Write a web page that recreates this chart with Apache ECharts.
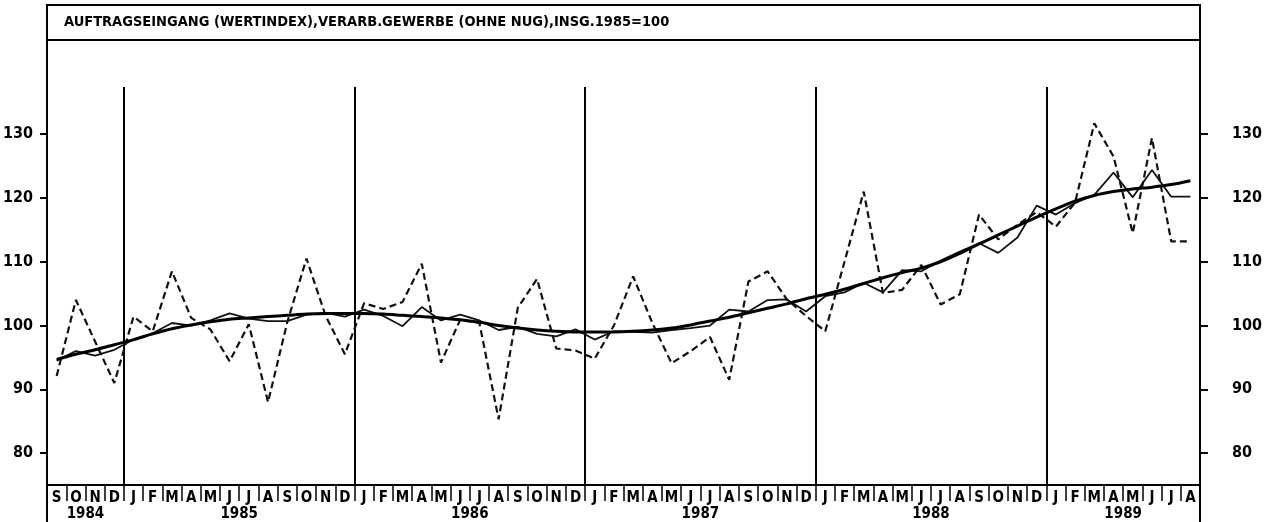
<!DOCTYPE html>
<html>
<head>
<meta charset="utf-8">
<title>Auftragseingang</title>
<script src="https://cdn.jsdelivr.net/npm/echarts@6/dist/echarts.min.js"></script>
<style>
  html, body { margin: 0; padding: 0; background: #fff; }
  #chart { width: 1268px; height: 522px; }
</style>
</head>
<body>
<div id="chart"></div>
<script type="text/javascript">
    var titleText = 'AUFTRAGSEINGANG (WERTINDEX),VERARB.GEWERBE (OHNE NUG),INSG.1985=100';

    // month letters Sep 1984 .. Aug 1989
    var monthLetters = [
        'S','O','N','D',
        'J','F','M','A','M','J','J','A','S','O','N','D',
        'J','F','M','A','M','J','J','A','S','O','N','D',
        'J','F','M','A','M','J','J','A','S','O','N','D',
        'J','F','M','A','M','J','J','A','S','O','N','D',
        'J','F','M','A','M','J','J','A'
    ];
    var yearNames = ['1984', '1985', '1986', '1987', '1988', '1989'];
    var monthsPerYear = [4, 12, 12, 12, 12, 8];
    var yTicks = [80, 90, 100, 110, 120, 130];

    // Originalwerte (gestrichelt)
    var rawValues = [
        92.1, 104.0, 97.5, 91.0,
        101.4, 99.1, 108.5, 101.2, 99.4, 94.4, 100.2, 88.0, 100.5, 110.5, 101.5, 95.5,
        103.5, 102.6, 103.7, 109.7, 94.2, 100.9, 100.4, 85.3, 102.8, 107.3, 96.4, 96.1,
        94.8, 100.0, 107.7, 100.4, 94.1, 96.0, 98.2, 91.5, 106.9, 108.5, 104.1, 101.5,
        99.1, 110.0, 121.0, 105.1, 105.6, 109.5, 103.3, 104.9, 117.4, 113.5, 115.8, 117.8,
        115.5, 119.3, 131.7, 126.5, 114.5, 129.4, 113.2, 113.2
    ];
    // glatte Komponente (duenn)
    var smoothValues = [
        94.5, 96.0, 95.3, 96.2,
        97.8, 98.8, 100.4, 100.0, 100.8, 101.9, 101.1, 100.7, 100.7, 101.7, 102.0, 101.4,
        102.5, 101.5, 99.9, 102.9, 100.8, 101.7, 100.8, 99.3, 99.8, 98.7, 98.3, 99.4,
        97.8, 99.1, 99.0, 98.9, 99.3, 99.6, 100.0, 102.5, 102.2, 104.0, 104.1, 102.2,
        104.6, 105.2, 106.7, 105.2, 108.7, 108.5, 110.2, 111.6, 112.9, 111.4, 113.8, 118.8,
        117.4, 119.2, 120.5, 124.0, 120.1, 124.4, 120.2, 120.2
    ];
    // Trend (dick)
    var trendValues = [
        94.7, 95.5, 96.2, 97.0,
        97.8, 98.7, 99.5, 100.1, 100.6, 101.0, 101.2, 101.4, 101.6, 101.8, 101.9, 101.9,
        101.9, 101.8, 101.6, 101.4, 101.2, 100.9, 100.5, 100.0, 99.6, 99.3, 99.1, 99.0,
        99.0, 99.0, 99.1, 99.3, 99.6, 100.1, 100.7, 101.3, 102.0, 102.7, 103.4, 104.2,
        104.9, 105.7, 106.6, 107.5, 108.3, 109.0, 110.0, 111.3, 112.8, 114.2, 115.6, 117.0,
        118.3, 119.5, 120.4, 121.0, 121.4, 121.7, 122.1, 122.7
    ];

    var font = '"Liberation Sans Narrow", "DejaVu Sans Condensed", sans-serif';

    // where each year starts and its centre on the month scale
    var yearStarts = [];
    var yearCenters = [];
    var pos = 0;
    for (var k = 0; k < monthsPerYear.length; k++) {
        yearStarts.push(pos);
        yearCenters.push(pos + monthsPerYear[k] / 2);
        pos += monthsPerYear[k];
    }

    var chart = echarts.init(document.getElementById('chart'));

    var option = {
        animation: false,
        backgroundColor: '#fff',
        title: {
            text: titleText,
            left: 64,
            top: 15,
            padding: 0,
            textStyle: {fontFamily: font, fontWeight: 'bold', fontSize: 14.5, color: '#000'}
        },
        grid: {left: 47, right: 68, top: 87, bottom: 36},
        xAxis: [
            {
                type: 'category',
                data: monthLetters,
                boundaryGap: true,
                axisLine: {show: true, lineStyle: {color: '#000', width: 2}},
                axisTick: {show: true, interval: 0, length: 16, lineStyle: {color: '#000', width: 1.5}},
                axisLabel: {interval: 0, margin: 6, fontFamily: font, fontWeight: 'bold', fontSize: 15, color: '#000'},
                splitLine: {
                    show: true,
                    interval: function (index) { return index > 0 && yearStarts.indexOf(index) >= 0; },
                    lineStyle: {color: '#000', width: 2}
                }
            },
            {
                type: 'value',
                min: 0,
                max: monthLetters.length,
                position: 'bottom',
                axisLine: {show: false},
                axisTick: {show: false},
                splitLine: {show: false},
                axisLabel: {
                    customValues: yearCenters,
                    margin: 22,
                    fontFamily: font, fontWeight: 'bold', fontSize: 15, color: '#000',
                    formatter: function (v) {
                        var idx = yearCenters.indexOf(v);
                        return idx >= 0 ? yearNames[idx] : '';
                    }
                }
            }
        ],
        yAxis: [
            {
                type: 'value',
                position: 'left',
                min: 75,
                max: 137.4,
                axisLine: {show: true, lineStyle: {color: '#000', width: 2}},
                axisTick: {show: true, customValues: yTicks, length: 7, lineStyle: {color: '#000', width: 2}},
                axisLabel: {customValues: yTicks, margin: 14, fontFamily: font, fontWeight: 'bold', fontSize: 16, color: '#000'},
                splitLine: {show: false}
            },
            {
                type: 'value',
                position: 'right',
                min: 75,
                max: 137.4,
                axisLine: {show: true, lineStyle: {color: '#000', width: 2}},
                axisTick: {show: true, customValues: yTicks, length: 8, lineStyle: {color: '#000', width: 2}},
                axisLabel: {customValues: yTicks, margin: 32, fontFamily: font, fontWeight: 'bold', fontSize: 16, color: '#000'},
                splitLine: {show: false}
            }
        ],
        graphic: [
            {type: 'rect', shape: {x: 47, y: 5, width: 1153, height: 35}, style: {fill: null, stroke: '#000', lineWidth: 2}},
            {type: 'line', shape: {x1: 47, y1: 40, x2: 47, y2: 522}, style: {stroke: '#000', lineWidth: 2}},
            {type: 'line', shape: {x1: 1200, y1: 40, x2: 1200, y2: 522}, style: {stroke: '#000', lineWidth: 2}}
        ],
        series: [
            {
                name: 'Originalwerte',
                type: 'line',
                data: rawValues,
                showSymbol: false,
                lineStyle: {color: '#111', width: 2.2, type: [7, 4]}
            },
            {
                name: 'glatte Komponente',
                type: 'line',
                data: smoothValues,
                showSymbol: false,
                lineStyle: {color: '#111', width: 1.8}
            },
            {
                name: 'Trend',
                type: 'line',
                data: trendValues,
                showSymbol: false,
                smooth: 0.3,
                lineStyle: {color: '#000', width: 3}
            }
        ]
    };

    chart.setOption(option);
</script>
</body>
</html>
